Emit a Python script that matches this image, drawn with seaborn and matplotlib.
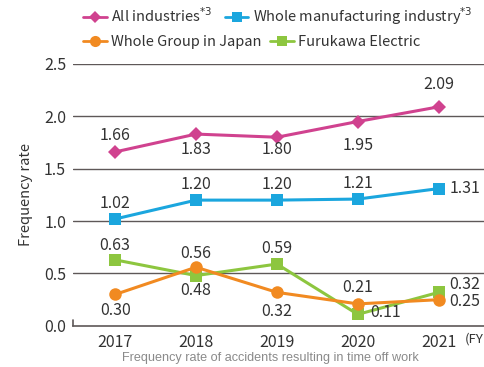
import matplotlib
matplotlib.use("Agg")
import matplotlib.pyplot as plt
import seaborn as sns
import pandas as pd
from matplotlib.lines import Line2D

sns.set_style("white")
plt.rcParams['font.family'] = ['Noto Sans CJK JP', 'DejaVu Sans']

years = ["2017", "2018", "2019", "2020", "2021"]
all_industries = [1.66, 1.83, 1.80, 1.95, 2.09]
whole_manufacturing = [1.02, 1.20, 1.20, 1.21, 1.31]
whole_group_japan = [0.30, 0.56, 0.32, 0.21, 0.25]
furukawa_electric = [0.63, 0.48, 0.59, 0.11, 0.32]

series_names = ["All industries", "Whole manufacturing industry",
                "Whole Group in Japan", "Furukawa Electric"]
series_vals = [all_industries, whole_manufacturing, whole_group_japan, furukawa_electric]
colors = {"All industries": "#d0428f", "Whole manufacturing industry": "#1ba6de",
          "Whole Group in Japan": "#f18a21", "Furukawa Electric": "#8dc63f"}
markers = {"All industries": "D", "Whole manufacturing industry": "s",
           "Whole Group in Japan": "o", "Furukawa Electric": "s"}
msize = {"All industries": 7, "Whole manufacturing industry": 8,
         "Whole Group in Japan": 9, "Furukawa Electric": 8}

rows = []
for name, vals in zip(series_names, series_vals):
    for i, (y, v) in enumerate(zip(years, vals)):
        rows.append({"idx": i, "year": y, "value": v, "series": name})
df = pd.DataFrame(rows)

fig = plt.figure(figsize=(4.84, 3.67), dpi=100)
ax = fig.add_axes([0.151, 0.112, 0.849, 0.714])

draw_order = ["Furukawa Electric", "Whole Group in Japan",
              "Whole manufacturing industry", "All industries"]
for name in draw_order:
    sub = df[df.series == name]
    sns.lineplot(data=sub, x="idx", y="value", ax=ax, color=colors[name],
                 marker=markers[name], markersize=msize[name], markeredgewidth=0,
                 linewidth=2.2, legend=False)

TXT = "#333333"
ax.set_xlim(-0.52, 4.56)
ax.set_ylim(0, 2.5)
yt = [0.0, 0.5, 1.0, 1.5, 2.0, 2.5]
ax.set_yticks(yt)
ax.set_yticklabels([f"{v:.1f}" for v in yt], fontsize=11.5, color=TXT)
ax.set_xticks(range(len(years)))
ax.set_xticklabels(years, fontsize=11.5, color=TXT)
for v in yt[1:]:
    ax.axhline(v, color="#5e5858", linewidth=1.0, zorder=0)
for s in ["top", "right", "left"]:
    ax.spines[s].set_visible(False)
ax.spines["bottom"].set_color("#5e5858")
ax.spines["bottom"].set_linewidth(1.2)
ax.tick_params(axis="x", direction="out", length=5, width=1.2, color="#5e5858", pad=0.5)
ax.tick_params(axis="y", length=0, pad=5)
ax.plot([-0.52, -0.52], [0, 0.06], color="#5e5858", lw=1.2, clip_on=False)
ax.set_xlabel("")
ax.set_ylabel("Frequency rate", fontsize=10.5, color=TXT, labelpad=8)
ax.text(4.56, -0.125, "(FY", fontsize=9.5, color=TXT, ha="right", va="center", clip_on=False)

# data labels: offsets in points (dx, dy)
label_offsets = {
    "All industries": [(0, 11.5), (0, -11), (0, -9), (0, -17), (0, 16)],
    "Whole manufacturing industry": [(0, 11), (0, 11), (0, 11), (0, 11.5), (19, 0)],
    "Whole Group in Japan": [(0, -11.5), (0, 10), (0, -14), (0, 11.5), (19, -1)],
    "Furukawa Electric": [(0, 10), (0, -11), (0, 11), (20, 1), (19, 6)],
}
for name, vals in zip(series_names, series_vals):
    for i, v in enumerate(vals):
        dx, dy = label_offsets[name][i]
        ax.annotate(f"{v:.2f}", (i, v), xytext=(dx, dy), textcoords="offset points",
                    ha="center", va="center", fontsize=11.5, color=TXT)

def handle(name):
    return Line2D([0], [0], color=colors[name], marker=markers[name], markersize=msize[name] - 1,
                  markeredgewidth=0, linewidth=2.0)

leg1 = fig.legend([handle("All industries"), handle("Whole manufacturing industry")],
                  ["All industries$^{*3}$", "Whole manufacturing industry$^{*3}$"],
                  loc="center left", bbox_to_anchor=(0.145, 0.955), ncol=2, frameon=False,
                  fontsize=10.5, handlelength=1.6, handletextpad=0.3, columnspacing=0.9,
                  labelcolor=TXT)
leg2 = fig.legend([handle("Whole Group in Japan"), handle("Furukawa Electric")],
                  ["Whole Group in Japan", "Furukawa Electric"],
                  loc="center left", bbox_to_anchor=(0.145, 0.886), ncol=2, frameon=False,
                  fontsize=10.5, handlelength=1.6, handletextpad=0.3, columnspacing=0.6,
                  labelcolor=TXT)

fig.text(0.558, 0.024, "Frequency rate of accidents resulting in time off work",
         ha="center", va="center", fontsize=9.1, color="#8a8a8a",
         family=["Liberation Sans", "DejaVu Sans"])

fig.savefig("out.png", dpi=100)
